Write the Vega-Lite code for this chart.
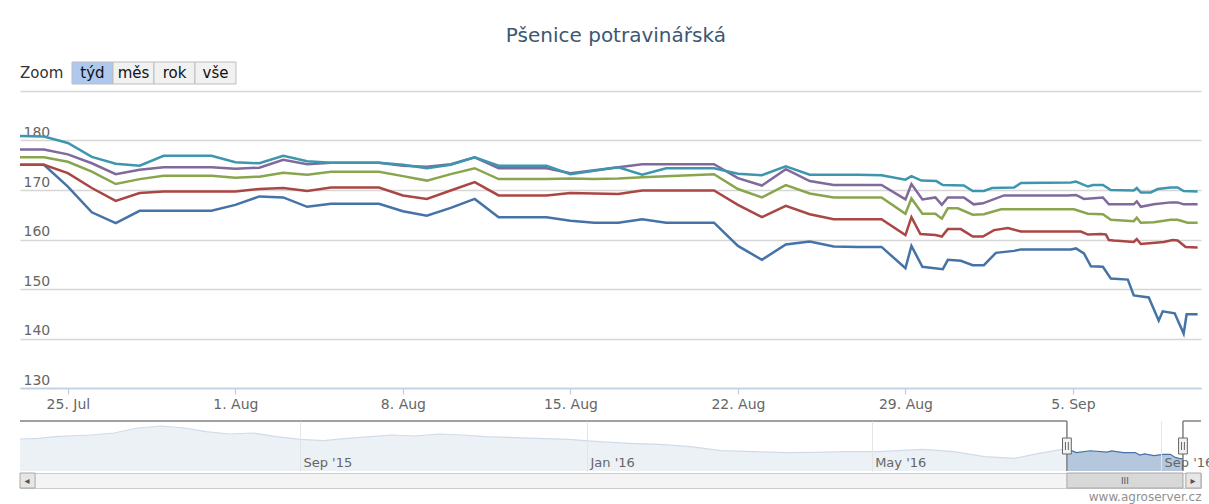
{
  "$schema": "https://vega.github.io/schema/vega-lite/v6.json",
  "background": "white",
  "padding": {"left": 19, "top": 25, "right": 9, "bottom": 2},
  "title": {"text": "Pšenice potravinářská", "anchor": "middle", "font": "DejaVu Sans", "fontSize": 20, "fontWeight": "normal", "color": "#3E576F", "baseline": "alphabetic", "offset": 0},
  "config": {
    "view": {"stroke": null},
    "font": "DejaVu Sans",
    "axis": {"labelFont": "DejaVu Sans", "labelColor": "#666666", "labelFontSize": 14, "titleFont": "DejaVu Sans"}
  },
  "datasets": {
    "lines": [
      {"s":"s1","t":"2016-07-23","v":175.1},{"s":"s1","t":"2016-07-24","v":175.1},{"s":"s1","t":"2016-07-25","v":170.7},{"s":"s1","t":"2016-07-26","v":165.5},{"s":"s1","t":"2016-07-27","v":163.3},{"s":"s1","t":"2016-07-28","v":165.8},{"s":"s1","t":"2016-07-29","v":165.8},{"s":"s1","t":"2016-07-30","v":165.8},{"s":"s1","t":"2016-07-31","v":165.8},{"s":"s1","t":"2016-08-01","v":167.0},{"s":"s1","t":"2016-08-02","v":168.7},{"s":"s1","t":"2016-08-03","v":168.5},{"s":"s1","t":"2016-08-04","v":166.6},{"s":"s1","t":"2016-08-05","v":167.2},{"s":"s1","t":"2016-08-06","v":167.2},{"s":"s1","t":"2016-08-07","v":167.2},{"s":"s1","t":"2016-08-08","v":165.7},{"s":"s1","t":"2016-08-09","v":164.8},{"s":"s1","t":"2016-08-10","v":166.4},{"s":"s1","t":"2016-08-11","v":168.2},{"s":"s1","t":"2016-08-12","v":164.5},{"s":"s1","t":"2016-08-13","v":164.5},{"s":"s1","t":"2016-08-14","v":164.5},{"s":"s1","t":"2016-08-15","v":163.8},{"s":"s1","t":"2016-08-16","v":163.4},{"s":"s1","t":"2016-08-17","v":163.4},{"s":"s1","t":"2016-08-18","v":164.1},{"s":"s1","t":"2016-08-19","v":163.4},{"s":"s1","t":"2016-08-20","v":163.4},{"s":"s1","t":"2016-08-21","v":163.4},{"s":"s1","t":"2016-08-22","v":158.7},{"s":"s1","t":"2016-08-23","v":155.9},{"s":"s1","t":"2016-08-24","v":159.0},{"s":"s1","t":"2016-08-25","v":159.6},{"s":"s1","t":"2016-08-26","v":158.6},{"s":"s1","t":"2016-08-27","v":158.5},{"s":"s1","t":"2016-08-28","v":158.5},{"s":"s1","t":"2016-08-29","v":154.2},{"s":"s1","t":"2016-08-29T06:00Z","v":158.7},{"s":"s1","t":"2016-08-29T17:00Z","v":154.5},{"s":"s1","t":"2016-08-30T13:30Z","v":154.0},{"s":"s1","t":"2016-08-30T18:30Z","v":155.9},{"s":"s1","t":"2016-08-31T07:30Z","v":155.7},{"s":"s1","t":"2016-08-31T19:30Z","v":154.8},{"s":"s1","t":"2016-09-01T06:40Z","v":154.8},{"s":"s1","t":"2016-09-01T18:40Z","v":157.3},{"s":"s1","t":"2016-09-02T12:50Z","v":157.7},{"s":"s1","t":"2016-09-02T19:50Z","v":158.0},{"s":"s1","t":"2016-09-04T22:00Z","v":158.0},{"s":"s1","t":"2016-09-05T03:00Z","v":158.2},{"s":"s1","t":"2016-09-05T11:00Z","v":157.2},{"s":"s1","t":"2016-09-05T18:00Z","v":154.6},{"s":"s1","t":"2016-09-06T06:00Z","v":154.5},{"s":"s1","t":"2016-09-06T14:00Z","v":152.1},{"s":"s1","t":"2016-09-07T07:00Z","v":151.9},{"s":"s1","t":"2016-09-07T13:00Z","v":148.7},{"s":"s1","t":"2016-09-08T04:00Z","v":148.3},{"s":"s1","t":"2016-09-08T14:00Z","v":143.6},{"s":"s1","t":"2016-09-08T18:00Z","v":145.5},{"s":"s1","t":"2016-09-09T06:00Z","v":145.1},{"s":"s1","t":"2016-09-09T15:00Z","v":141.0},{"s":"s1","t":"2016-09-09T18:00Z","v":144.9},{"s":"s1","t":"2016-09-10T05:00Z","v":144.9},
      {"s":"s2","t":"2016-07-23","v":175.1},{"s":"s2","t":"2016-07-24","v":175.1},{"s":"s2","t":"2016-07-25","v":173.4},{"s":"s2","t":"2016-07-26","v":170.4},{"s":"s2","t":"2016-07-27","v":167.8},{"s":"s2","t":"2016-07-28","v":169.4},{"s":"s2","t":"2016-07-29","v":169.7},{"s":"s2","t":"2016-07-30","v":169.7},{"s":"s2","t":"2016-07-31","v":169.7},{"s":"s2","t":"2016-08-01","v":169.7},{"s":"s2","t":"2016-08-02","v":170.2},{"s":"s2","t":"2016-08-03","v":170.4},{"s":"s2","t":"2016-08-04","v":169.8},{"s":"s2","t":"2016-08-05","v":170.5},{"s":"s2","t":"2016-08-06","v":170.5},{"s":"s2","t":"2016-08-07","v":170.5},{"s":"s2","t":"2016-08-08","v":168.9},{"s":"s2","t":"2016-08-09","v":168.2},{"s":"s2","t":"2016-08-10","v":169.9},{"s":"s2","t":"2016-08-11","v":171.6},{"s":"s2","t":"2016-08-12","v":168.9},{"s":"s2","t":"2016-08-13","v":168.9},{"s":"s2","t":"2016-08-14","v":168.9},{"s":"s2","t":"2016-08-15","v":169.4},{"s":"s2","t":"2016-08-16","v":169.3},{"s":"s2","t":"2016-08-17","v":169.2},{"s":"s2","t":"2016-08-18","v":169.9},{"s":"s2","t":"2016-08-19","v":169.9},{"s":"s2","t":"2016-08-20","v":169.9},{"s":"s2","t":"2016-08-21","v":169.9},{"s":"s2","t":"2016-08-22","v":167.0},{"s":"s2","t":"2016-08-23","v":164.5},{"s":"s2","t":"2016-08-24","v":166.8},{"s":"s2","t":"2016-08-25","v":165.1},{"s":"s2","t":"2016-08-26","v":164.1},{"s":"s2","t":"2016-08-27","v":164.1},{"s":"s2","t":"2016-08-28","v":164.1},{"s":"s2","t":"2016-08-29","v":160.9},{"s":"s2","t":"2016-08-29T06:00Z","v":164.5},{"s":"s2","t":"2016-08-29T15:00Z","v":161.1},{"s":"s2","t":"2016-08-30T06:00Z","v":160.9},{"s":"s2","t":"2016-08-30T12:30Z","v":160.6},{"s":"s2","t":"2016-08-30T18:30Z","v":162.1},{"s":"s2","t":"2016-08-31T07:30Z","v":162.1},{"s":"s2","t":"2016-08-31T19:30Z","v":160.6},{"s":"s2","t":"2016-09-01T05:40Z","v":160.6},{"s":"s2","t":"2016-09-01T16:50Z","v":161.9},{"s":"s2","t":"2016-09-02T06:50Z","v":162.3},{"s":"s2","t":"2016-09-02T19:50Z","v":161.6},{"s":"s2","t":"2016-09-05T08:00Z","v":161.6},{"s":"s2","t":"2016-09-05T15:00Z","v":161.0},{"s":"s2","t":"2016-09-06T04:00Z","v":161.1},{"s":"s2","t":"2016-09-06T09:00Z","v":161.0},{"s":"s2","t":"2016-09-06T12:00Z","v":159.9},{"s":"s2","t":"2016-09-06T17:00Z","v":159.8},{"s":"s2","t":"2016-09-07T13:00Z","v":159.5},{"s":"s2","t":"2016-09-07T16:00Z","v":160.1},{"s":"s2","t":"2016-09-07T20:00Z","v":159.1},{"s":"s2","t":"2016-09-08T19:00Z","v":159.5},{"s":"s2","t":"2016-09-09T04:00Z","v":159.9},{"s":"s2","t":"2016-09-09T09:00Z","v":159.8},{"s":"s2","t":"2016-09-09T17:00Z","v":158.5},{"s":"s2","t":"2016-09-10T05:00Z","v":158.4},
      {"s":"s3","t":"2016-07-23","v":176.6},{"s":"s3","t":"2016-07-24","v":176.6},{"s":"s3","t":"2016-07-25","v":175.7},{"s":"s3","t":"2016-07-26","v":173.7},{"s":"s3","t":"2016-07-27","v":171.2},{"s":"s3","t":"2016-07-28","v":172.2},{"s":"s3","t":"2016-07-29","v":172.9},{"s":"s3","t":"2016-07-30","v":172.9},{"s":"s3","t":"2016-07-31","v":172.9},{"s":"s3","t":"2016-08-01","v":172.5},{"s":"s3","t":"2016-08-02","v":172.7},{"s":"s3","t":"2016-08-03","v":173.5},{"s":"s3","t":"2016-08-04","v":173.1},{"s":"s3","t":"2016-08-05","v":173.7},{"s":"s3","t":"2016-08-06","v":173.7},{"s":"s3","t":"2016-08-07","v":173.7},{"s":"s3","t":"2016-08-08","v":172.8},{"s":"s3","t":"2016-08-09","v":171.9},{"s":"s3","t":"2016-08-10","v":173.2},{"s":"s3","t":"2016-08-11","v":174.4},{"s":"s3","t":"2016-08-12","v":172.2},{"s":"s3","t":"2016-08-13","v":172.2},{"s":"s3","t":"2016-08-14","v":172.2},{"s":"s3","t":"2016-08-15","v":172.3},{"s":"s3","t":"2016-08-16","v":172.2},{"s":"s3","t":"2016-08-17","v":172.3},{"s":"s3","t":"2016-08-18","v":172.6},{"s":"s3","t":"2016-08-19","v":172.8},{"s":"s3","t":"2016-08-20","v":173.0},{"s":"s3","t":"2016-08-21","v":173.2},{"s":"s3","t":"2016-08-22","v":170.2},{"s":"s3","t":"2016-08-23","v":168.5},{"s":"s3","t":"2016-08-24","v":171.0},{"s":"s3","t":"2016-08-25","v":169.3},{"s":"s3","t":"2016-08-26","v":168.5},{"s":"s3","t":"2016-08-27","v":168.5},{"s":"s3","t":"2016-08-28","v":168.5},{"s":"s3","t":"2016-08-29","v":165.2},{"s":"s3","t":"2016-08-29T06:00Z","v":168.3},{"s":"s3","t":"2016-08-29T17:00Z","v":165.2},{"s":"s3","t":"2016-08-30T06:00Z","v":165.2},{"s":"s3","t":"2016-08-30T12:30Z","v":164.2},{"s":"s3","t":"2016-08-30T18:30Z","v":166.3},{"s":"s3","t":"2016-08-31T04:30Z","v":166.3},{"s":"s3","t":"2016-08-31T19:30Z","v":165.0},{"s":"s3","t":"2016-09-01T06:40Z","v":165.1},{"s":"s3","t":"2016-09-01T23:50Z","v":166.1},{"s":"s3","t":"2016-09-05T01:00Z","v":166.1},{"s":"s3","t":"2016-09-05T15:00Z","v":165.2},{"s":"s3","t":"2016-09-06T06:00Z","v":165.1},{"s":"s3","t":"2016-09-06T14:00Z","v":164.0},{"s":"s3","t":"2016-09-07T13:00Z","v":163.7},{"s":"s3","t":"2016-09-07T16:00Z","v":164.4},{"s":"s3","t":"2016-09-07T20:00Z","v":163.4},{"s":"s3","t":"2016-09-08T09:00Z","v":163.5},{"s":"s3","t":"2016-09-09T02:00Z","v":164.0},{"s":"s3","t":"2016-09-09T09:00Z","v":164.0},{"s":"s3","t":"2016-09-09T19:00Z","v":163.4},{"s":"s3","t":"2016-09-10T05:00Z","v":163.4},
      {"s":"s4","t":"2016-07-23","v":178.2},{"s":"s4","t":"2016-07-24","v":178.2},{"s":"s4","t":"2016-07-25","v":177.2},{"s":"s4","t":"2016-07-26","v":175.4},{"s":"s4","t":"2016-07-27","v":173.2},{"s":"s4","t":"2016-07-28","v":174.1},{"s":"s4","t":"2016-07-29","v":174.6},{"s":"s4","t":"2016-07-30","v":174.6},{"s":"s4","t":"2016-07-31","v":174.6},{"s":"s4","t":"2016-08-01","v":174.3},{"s":"s4","t":"2016-08-02","v":174.5},{"s":"s4","t":"2016-08-03","v":176.1},{"s":"s4","t":"2016-08-04","v":175.2},{"s":"s4","t":"2016-08-05","v":175.5},{"s":"s4","t":"2016-08-06","v":175.5},{"s":"s4","t":"2016-08-07","v":175.5},{"s":"s4","t":"2016-08-08","v":174.9},{"s":"s4","t":"2016-08-09","v":174.7},{"s":"s4","t":"2016-08-10","v":175.2},{"s":"s4","t":"2016-08-11","v":176.6},{"s":"s4","t":"2016-08-12","v":174.4},{"s":"s4","t":"2016-08-13","v":174.4},{"s":"s4","t":"2016-08-14","v":174.4},{"s":"s4","t":"2016-08-15","v":173.4},{"s":"s4","t":"2016-08-16","v":174.0},{"s":"s4","t":"2016-08-17","v":174.6},{"s":"s4","t":"2016-08-18","v":175.2},{"s":"s4","t":"2016-08-19","v":175.2},{"s":"s4","t":"2016-08-20","v":175.2},{"s":"s4","t":"2016-08-21","v":175.2},{"s":"s4","t":"2016-08-22","v":172.4},{"s":"s4","t":"2016-08-23","v":170.9},{"s":"s4","t":"2016-08-24","v":174.2},{"s":"s4","t":"2016-08-25","v":171.8},{"s":"s4","t":"2016-08-26","v":171.0},{"s":"s4","t":"2016-08-27","v":171.0},{"s":"s4","t":"2016-08-28","v":171.0},{"s":"s4","t":"2016-08-29","v":168.1},{"s":"s4","t":"2016-08-29T06:00Z","v":171.2},{"s":"s4","t":"2016-08-29T17:00Z","v":168.1},{"s":"s4","t":"2016-08-30T06:00Z","v":168.5},{"s":"s4","t":"2016-08-30T12:30Z","v":167.0},{"s":"s4","t":"2016-08-30T18:30Z","v":168.5},{"s":"s4","t":"2016-08-31T10:30Z","v":168.5},{"s":"s4","t":"2016-08-31T20:30Z","v":167.1},{"s":"s4","t":"2016-09-01T05:40Z","v":167.3},{"s":"s4","t":"2016-09-02T02:50Z","v":168.9},{"s":"s4","t":"2016-09-04T19:00Z","v":168.9},{"s":"s4","t":"2016-09-05T03:00Z","v":169.0},{"s":"s4","t":"2016-09-05T11:00Z","v":168.2},{"s":"s4","t":"2016-09-06T06:00Z","v":168.5},{"s":"s4","t":"2016-09-06T12:00Z","v":167.1},{"s":"s4","t":"2016-09-07T13:00Z","v":167.1},{"s":"s4","t":"2016-09-07T16:00Z","v":167.7},{"s":"s4","t":"2016-09-07T20:00Z","v":166.6},{"s":"s4","t":"2016-09-08T09:00Z","v":167.1},{"s":"s4","t":"2016-09-09T02:00Z","v":167.5},{"s":"s4","t":"2016-09-09T09:00Z","v":167.5},{"s":"s4","t":"2016-09-09T15:00Z","v":167.1},{"s":"s4","t":"2016-09-10T05:00Z","v":167.1},
      {"s":"s5","t":"2016-07-23","v":180.9},{"s":"s5","t":"2016-07-24","v":180.8},{"s":"s5","t":"2016-07-25","v":179.5},{"s":"s5","t":"2016-07-26","v":176.7},{"s":"s5","t":"2016-07-27","v":175.3},{"s":"s5","t":"2016-07-28","v":174.9},{"s":"s5","t":"2016-07-29","v":176.9},{"s":"s5","t":"2016-07-30","v":176.9},{"s":"s5","t":"2016-07-31","v":176.9},{"s":"s5","t":"2016-08-01","v":175.6},{"s":"s5","t":"2016-08-02","v":175.4},{"s":"s5","t":"2016-08-03","v":176.9},{"s":"s5","t":"2016-08-04","v":175.8},{"s":"s5","t":"2016-08-05","v":175.5},{"s":"s5","t":"2016-08-06","v":175.5},{"s":"s5","t":"2016-08-07","v":175.5},{"s":"s5","t":"2016-08-08","v":175.1},{"s":"s5","t":"2016-08-09","v":174.4},{"s":"s5","t":"2016-08-10","v":175.1},{"s":"s5","t":"2016-08-11","v":176.6},{"s":"s5","t":"2016-08-12","v":174.9},{"s":"s5","t":"2016-08-13","v":174.9},{"s":"s5","t":"2016-08-14","v":174.9},{"s":"s5","t":"2016-08-15","v":173.2},{"s":"s5","t":"2016-08-16","v":173.9},{"s":"s5","t":"2016-08-17","v":174.6},{"s":"s5","t":"2016-08-18","v":173.1},{"s":"s5","t":"2016-08-19","v":174.4},{"s":"s5","t":"2016-08-20","v":174.4},{"s":"s5","t":"2016-08-21","v":174.4},{"s":"s5","t":"2016-08-22","v":173.3},{"s":"s5","t":"2016-08-23","v":173.0},{"s":"s5","t":"2016-08-24","v":174.8},{"s":"s5","t":"2016-08-25","v":173.1},{"s":"s5","t":"2016-08-26","v":173.1},{"s":"s5","t":"2016-08-27","v":173.1},{"s":"s5","t":"2016-08-28","v":173.0},{"s":"s5","t":"2016-08-29","v":172.1},{"s":"s5","t":"2016-08-29T06:00Z","v":172.8},{"s":"s5","t":"2016-08-29T16:00Z","v":171.9},{"s":"s5","t":"2016-08-30T07:00Z","v":171.8},{"s":"s5","t":"2016-08-30T13:30Z","v":171.0},{"s":"s5","t":"2016-08-31T10:30Z","v":170.9},{"s":"s5","t":"2016-08-31T19:30Z","v":169.8},{"s":"s5","t":"2016-09-01T06:40Z","v":169.8},{"s":"s5","t":"2016-09-01T14:50Z","v":170.4},{"s":"s5","t":"2016-09-02T12:50Z","v":170.5},{"s":"s5","t":"2016-09-02T19:50Z","v":171.4},{"s":"s5","t":"2016-09-04T22:00Z","v":171.5},{"s":"s5","t":"2016-09-05T03:00Z","v":171.7},{"s":"s5","t":"2016-09-05T15:00Z","v":170.7},{"s":"s5","t":"2016-09-05T20:00Z","v":171.0},{"s":"s5","t":"2016-09-06T06:00Z","v":171.0},{"s":"s5","t":"2016-09-06T14:00Z","v":170.0},{"s":"s5","t":"2016-09-07T13:00Z","v":169.9},{"s":"s5","t":"2016-09-07T16:00Z","v":170.4},{"s":"s5","t":"2016-09-07T20:00Z","v":169.5},{"s":"s5","t":"2016-09-08T06:00Z","v":169.5},{"s":"s5","t":"2016-09-08T13:00Z","v":170.2},{"s":"s5","t":"2016-09-09T02:00Z","v":170.5},{"s":"s5","t":"2016-09-09T09:00Z","v":170.5},{"s":"s5","t":"2016-09-09T15:00Z","v":169.8},{"s":"s5","t":"2016-09-10T05:00Z","v":169.7}
    ],
    "nav": [
      {"t":"2015-05-05","v":204},{"t":"2015-05-13","v":206},{"t":"2015-05-20","v":211},{"t":"2015-06-04","v":216},{"t":"2015-06-14","v":222},{"t":"2015-06-24","v":237},{"t":"2015-07-04","v":243},{"t":"2015-07-14","v":237},{"t":"2015-07-23","v":226},{"t":"2015-08-02","v":219},{"t":"2015-08-12","v":222},{"t":"2015-08-22","v":211},{"t":"2015-09-01","v":203},{"t":"2015-09-11","v":199},{"t":"2015-09-21","v":206},{"t":"2015-10-01","v":211},{"t":"2015-10-10","v":216},{"t":"2015-10-20","v":213},{"t":"2015-10-30","v":219},{"t":"2015-11-09","v":216},{"t":"2015-11-19","v":211},{"t":"2015-11-28","v":209},{"t":"2015-12-11","v":206},{"t":"2015-12-24","v":203},{"t":"2016-01-06","v":196},{"t":"2016-01-19","v":191},{"t":"2016-02-01","v":188},{"t":"2016-02-14","v":181},{"t":"2016-02-27","v":169},{"t":"2016-03-12","v":166},{"t":"2016-03-25","v":163},{"t":"2016-04-07","v":164},{"t":"2016-04-20","v":166},{"t":"2016-05-04","v":166},{"t":"2016-05-23","v":173},{"t":"2016-06-05","v":166},{"t":"2016-06-18","v":151},{"t":"2016-07-01","v":146},{"t":"2016-07-11","v":161},{"t":"2016-07-23","v":175.1},{"t":"2016-07-27","v":163.3},{"t":"2016-08-02","v":168.7},{"t":"2016-08-09","v":164.8},{"t":"2016-08-11","v":168.2},{"t":"2016-08-16","v":163.4},{"t":"2016-08-21","v":163.4},{"t":"2016-08-23","v":155.9},{"t":"2016-08-25","v":159.6},{"t":"2016-08-29","v":154.2},{"t":"2016-09-02","v":157.7},{"t":"2016-09-05","v":158.2},{"t":"2016-09-07","v":148.7},{"t":"2016-09-09","v":145.1},{"t":"2016-09-10T08:00Z","v":144.9}
    ],
    "sel": [{"start":"2016-07-23","end":"2016-09-10T08:00Z"}],
    "edges": [{"t":"2016-07-23"},{"t":"2016-09-10T08:00Z"}],
    "mask": [{"start":"2015-05-05","end":"2016-07-23"},{"start":"2016-09-10T08:00Z","end":"2016-09-18"}],
    "buttons": [{"b":"týd","sel":true},{"b":"měs","sel":false},{"b":"rok","sel":false},{"b":"vše","sel":false}],
    "arrows": [{"start":"2015-05-05","end":"2015-05-11T10:00Z","a":"◂"},{"start":"2016-09-11T14:00Z","end":"2016-09-18","a":"▸"}]
  },
  "spacing": 9,
  "vconcat": [
    {
      "bounds": "flush",
      "spacing": 7,
      "vconcat": [
        {
          "width": 216,
          "height": 22,
          "layer": [
            {
              "data": {"values": [{"label": "Zoom"}]},
              "mark": {"type": "text", "align": "left", "baseline": "middle", "fontSize": 15, "color": "#333333"},
              "encoding": {
                "x": {"field": "label", "type": "nominal", "bandPosition": 0, "scale": {"type": "band", "paddingInner": 0, "paddingOuter": 0}, "axis": null},
                "text": {"field": "label"}
              }
            },
            {
              "data": {"name": "buttons"},
              "mark": {"type": "rect", "stroke": "#bdbdbd", "strokeWidth": 1},
              "encoding": {
                "x": {"field": "b", "type": "nominal", "sort": null, "scale": {"type": "band", "domain": ["týd", "měs", "rok", "vše"], "paddingInner": 0, "paddingOuter": 0.634, "align": 1}, "axis": null},
                "fill": {"condition": {"test": "datum.sel", "value": "#aec8ee"}, "value": "#f1f1f1"}
              }
            },
            {
              "data": {"name": "buttons"},
              "mark": {"type": "text", "baseline": "middle", "fontSize": 15, "color": "#111111"},
              "encoding": {
                "x": {"field": "b", "type": "nominal", "sort": null, "scale": {"type": "band", "domain": ["týd", "měs", "rok", "vše"], "paddingInner": 0, "paddingOuter": 0.634, "align": 1}, "axis": null},
                "text": {"field": "b"}
              }
            }
          ],
          "resolve": {"scale": {"x": "independent"}}
        },
        {
          "width": 1181,
          "height": 297,
          "data": {"name": "lines"},
          "mark": {"type": "line", "strokeWidth": 2.5, "clip": true},
          "encoding": {
            "x": {
              "field": "t", "type": "temporal",
              "scale": {"type": "utc", "domain": [{"year": 2016, "month": 7, "date": 23, "utc": true}, {"year": 2016, "month": 9, "date": 10, "hours": 8, "minutes": 24, "utc": true}]},
              "axis": {
                "title": null, "grid": false,
                "values": [{"year": 2016, "month": 7, "date": 25, "utc": true}, {"year": 2016, "month": 8, "date": 1, "utc": true}, {"year": 2016, "month": 8, "date": 8, "utc": true}, {"year": 2016, "month": 8, "date": 15, "utc": true}, {"year": 2016, "month": 8, "date": 22, "utc": true}, {"year": 2016, "month": 8, "date": 29, "utc": true}, {"year": 2016, "month": 9, "date": 5, "utc": true}],
                "format": "%-d. %b", "labelFlush": false, "labelOverlap": false,
                "domainColor": "#C0D0E0", "domainWidth": 1.3, "tickColor": "#C0D0E0", "tickSize": 6, "tickWidth": 1.3, "labelPadding": 3
              }
            },
            "y": {
              "field": "v", "type": "quantitative",
              "scale": {"domain": [130, 190], "zero": false, "nice": false},
              "axis": {
                "title": null, "values": [130, 140, 150, 160, 170, 180, 190],
                "grid": true, "gridColor": "#d6d6d6", "gridWidth": 1.3, "domain": false, "ticks": false, "tickSize": 0,
                "labelAlign": "left", "labelBaseline": "alphabetic", "labelPadding": -3, "labelOffset": -4,
                "labelOverlap": false, "labelExpr": "datum.value == 190 ? '' : datum.label"
              }
            },
            "color": {"field": "s", "type": "nominal", "scale": {"domain": ["s1", "s2", "s3", "s4", "s5"], "range": ["#4572A7", "#AA4643", "#89A54E", "#80699B", "#3D96AE"]}, "legend": null}
          }
        }
      ]
    },
    {
      "bounds": "flush",
      "spacing": 2,
      "vconcat": [
        {
          "width": 1181,
          "height": 50,
          "layer": [
            {
              "data": {"name": "nav"},
              "mark": {"type": "area", "fill": "#4572A7", "fillOpacity": 0.4, "line": {"color": "#4572A7", "strokeWidth": 1.2}, "clip": true},
              "encoding": {
                "x": {
                  "field": "t", "type": "temporal",
                  "scale": {"type": "utc", "domain": [{"year": 2015, "month": 5, "date": 5, "utc": true}, {"year": 2016, "month": 9, "date": 18, "utc": true}]},
                  "axis": {
                    "title": null, "zindex": 1,
                    "values": [{"year": 2015, "month": 9, "date": 1, "utc": true}, {"year": 2016, "month": 1, "date": 1, "utc": true}, {"year": 2016, "month": 5, "date": 1, "utc": true}, {"year": 2016, "month": 9, "date": 1, "utc": true}],
                    "format": "%b '%y", "grid": true, "gridColor": "#e2e6eb", "gridWidth": 1, "domain": false, "ticks": false, "tickSize": 0,
                    "labelAlign": "left", "labelBaseline": "alphabetic", "labelPadding": -5, "labelOffset": 3, "labelFlush": false, "labelOverlap": false,
                    "labelFontSize": 13, "labelColor": "#666666"
                  }
                },
                "y": {"field": "v", "type": "quantitative", "scale": {"domain": [108, 258], "zero": false, "nice": false}, "axis": null}
              }
            },
            {
              "data": {"name": "mask"},
              "mark": {"type": "rect", "fill": "white", "fillOpacity": 0.75},
              "encoding": {
                "x": {"field": "start", "type": "temporal"},
                "x2": {"field": "end"}
              }
            },
            {
              "data": {"name": "mask"},
              "mark": {"type": "rule", "color": "#808080", "strokeWidth": 1.5},
              "encoding": {
                "x": {"field": "start", "type": "temporal"},
                "x2": {"field": "end"},
                "y": {"datum": 258, "type": "quantitative"}
              }
            },
            {
              "data": {"name": "edges"},
              "mark": {"type": "rule", "color": "#808080", "strokeWidth": 1.5},
              "encoding": {
                "x": {"field": "t", "type": "temporal"},
                "y": {"datum": 258, "type": "quantitative"},
                "y2": {"datum": 108}
              }
            },
            {
              "data": {"name": "edges"},
              "mark": {"type": "point", "shape": "M-0.55,-1L0.55,-1L0.55,1L-0.55,1Z M-0.18,-0.5L-0.18,0.5 M0.18,-0.5L0.18,0.5", "size": 256, "filled": false, "fill": "#f2f2f2", "fillOpacity": 1, "stroke": "#666666", "strokeWidth": 1, "opacity": 1},
              "encoding": {
                "x": {"field": "t", "type": "temporal"},
                "y": {"datum": 183, "type": "quantitative"}
              }
            }
          ]
        },
        {
          "width": 1181,
          "height": 15,
          "view": {"fill": "#f4f4f4", "stroke": "#cccccc"},
          "title": {"text": "www.agroserver.cz", "orient": "bottom", "anchor": "end", "fontSize": 12, "fontWeight": "normal", "color": "#909090", "offset": 3},
          "layer": [
            {
              "data": {"name": "sel"},
              "mark": {"type": "rect", "fill": "#d8d8d8", "stroke": "#a8a8a8", "strokeWidth": 1},
              "encoding": {
                "x": {"field": "start", "type": "temporal", "scale": {"type": "utc", "domain": [{"year": 2015, "month": 5, "date": 5, "utc": true}, {"year": 2016, "month": 9, "date": 18, "utc": true}]}, "axis": null},
                "x2": {"field": "end"}
              }
            },
            {
              "data": {"name": "sel"},
              "mark": {"type": "text", "text": "III", "dx": 58, "fontSize": 9, "color": "#555555", "baseline": "middle"},
              "encoding": {
                "x": {"field": "start", "type": "temporal"}
              }
            },
            {
              "data": {"name": "arrows"},
              "mark": {"type": "rect", "fill": "#e6e6e6", "stroke": "#a8a8a8", "strokeWidth": 1},
              "encoding": {
                "x": {"field": "start", "type": "temporal"},
                "x2": {"field": "end"}
              }
            },
            {
              "data": {"name": "arrows"},
              "mark": {"type": "text", "dx": 7, "fontSize": 10, "color": "#555555", "baseline": "middle", "align": "center"},
              "encoding": {
                "x": {"field": "start", "type": "temporal"},
                "text": {"field": "a"}
              }
            }
          ]
        }
      ]
    }
  ]
}
